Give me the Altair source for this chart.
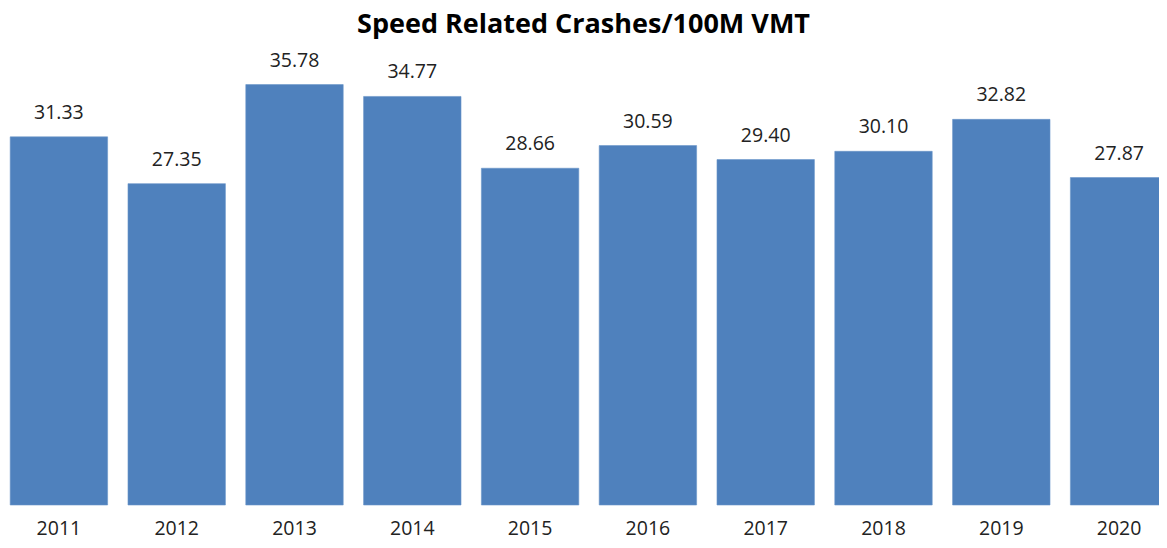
import altair as alt
import pandas as pd

years = ["2011", "2012", "2013", "2014", "2015", "2016", "2017", "2018", "2019", "2020"]
values = [31.33, 27.35, 35.78, 34.77, 28.66, 30.59, 29.40, 30.10, 32.82, 27.87]
labels = ["31.33", "27.35", "35.78", "34.77", "28.66", "30.59", "29.40", "30.10", "32.82", "27.87"]

df = pd.DataFrame({"year": years, "value": values, "label": labels})

FONT = "Open Sans"

x = alt.X(
    "year:N",
    sort=years,
    title=None,
    scale=alt.Scale(range=[-8, 1170], paddingInner=0.173, paddingOuter=0.0865),
    axis=alt.Axis(
        domain=False,
        ticks=False,
        grid=False,
        labelAngle=0,
        labelFont=FONT,
        labelFontSize=19.5,
        labelColor="#222222",
        labelBaseline="alphabetic",
        labelPadding=29,
    ),
)
y = alt.Y(
    "value:Q",
    scale=alt.Scale(domain=[0, 40], nice=False),
    axis=None,
)

bars = alt.Chart(df).mark_bar(color="#4F81BD", stroke="#6a95c9", strokeWidth=0.6).encode(x=x, y=y)
text = alt.Chart(df).mark_text(
    baseline="alphabetic", dy=-18, font=FONT, fontSize=19.5, color="#222222"
).encode(x=x, y=y, text="label:N")

chart = (
    alt.layer(bars, text)
    .properties(
        width=1151,
        height=470,
        background="white",
        title=alt.TitleParams(
            "Speed Related Crashes/100M VMT",
            font=FONT,
            fontSize=27,
            fontWeight="bold",
            color="#000000",
            anchor="middle",
            baseline="alphabetic",
            offset=-25,
            frame="group",
        ),
        autosize=alt.AutoSizeParams(type="none"),
        padding={"left": 0, "top": 27, "right": 0, "bottom": 35},
    )
    .configure_view(strokeWidth=0, stroke=None)
)

chart.save("out.html", embed_options={"renderer": "svg", "actions": False})
